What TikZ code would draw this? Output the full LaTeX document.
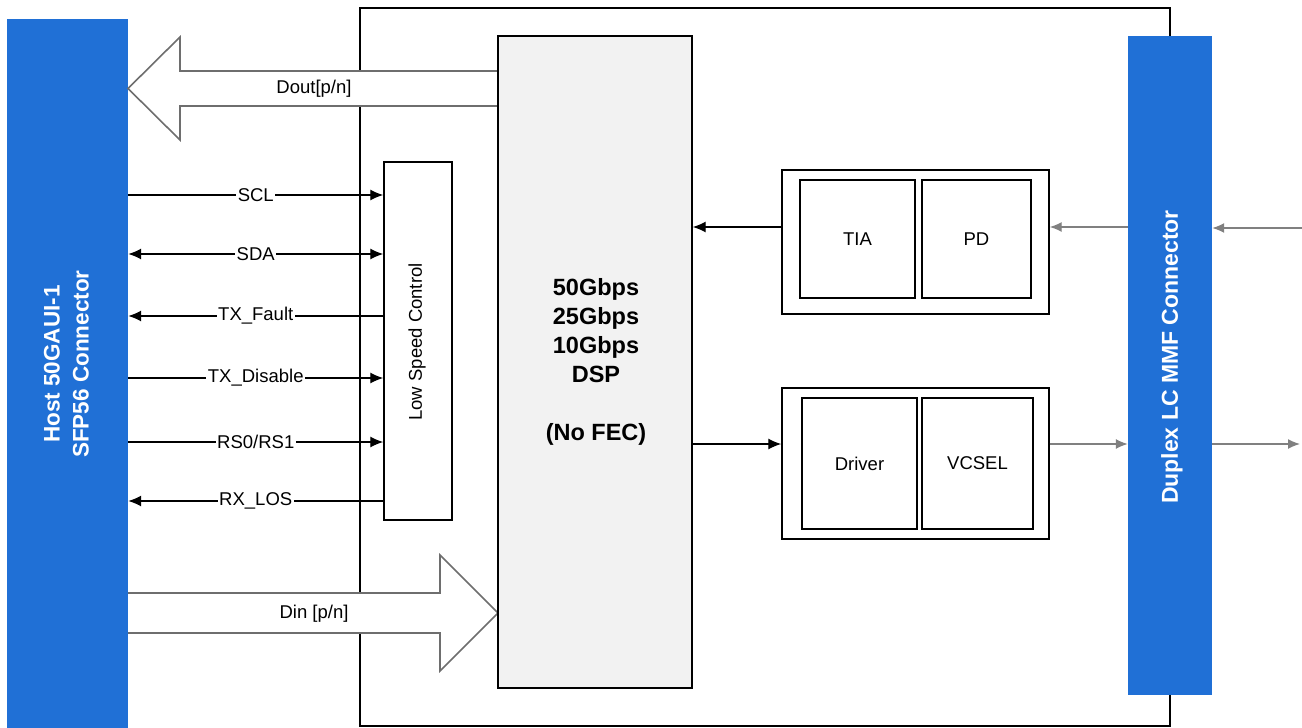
\documentclass[tikz,border=0pt]{standalone}
\usepackage{fontspec}
\setmainfont{Liberation Sans}
\usetikzlibrary{arrows.meta}
\definecolor{hostblue}{RGB}{32,112,214}
\definecolor{dspgray}{RGB}{242,242,242}
\definecolor{arrgray}{RGB}{128,128,128}
\definecolor{outlinegray}{RGB}{110,110,110}
\begin{document}
\begin{tikzpicture}[x=1pt,y=-1pt,
  box/.style={draw=black, line width=1.4pt, inner sep=0pt, fill=white},
  bluebar/.style={fill=hostblue, draw=none, inner sep=0pt},
  bartext/.style={text=white, font=\fontsize{22.5}{29}\selectfont\bfseries, align=center, rotate=90, inner sep=0pt},
  lbl/.style={font=\fontsize{18.5}{22}\selectfont, inner sep=0pt},
  siglab/.style={lbl, fill=white, inner xsep=1.5pt, inner ysep=1pt},
  sig/.style={draw=black, line width=1.3pt},
  blk/.style={-{Latex[length=13pt,width=11pt]}},
  blkboth/.style={{Latex[length=13pt,width=11pt]}-{Latex[length=13pt,width=11pt]}},
  gry/.style={draw=arrgray, line width=1.4pt, -{Latex[length=12pt,width=10pt]}},
  bigarrow/.style={draw=outlinegray, fill=white, line width=1.6pt, line join=miter}
]
\useasboundingbox (0,0) rectangle (1302,728);

% module outline
\node[box, line width=1.1pt, minimum width=810pt, minimum height=718pt] (module) at (765,367) {};

% host connector bar
\node[bluebar, minimum width=121pt, minimum height=709pt] (host) at (67.5,373.5) {};
\node[bartext] (hosttxt) at (66.5,364) {Host 50GAUI-1\\SFP56 Connector};

% optical connector bar
\node[bluebar, minimum width=84pt, minimum height=659pt] (optbar) at (1170,365.5) {};
\node[bartext, font=\fontsize{23}{29}\selectfont\bfseries] (opttxt) at (1172,357) {Duplex LC MMF Connector};

% big data arrows
\path[bigarrow] (498,71) -- (180,71) -- (180,37) -- (128,88.5) -- (180,140) -- (180,106) -- (498,106);
\node[lbl] (dout) at (314,88.5) {Dout[p/n]};
\path[bigarrow] (128,593) -- (440,593) -- (440,555) -- (498,613) -- (440,671) -- (440,633) -- (128,633);
\node[lbl] (din) at (314,614) {Din [p/n]};

% DSP
\node[box, fill=dspgray, minimum width=194pt, minimum height=652pt] (dsp) at (595,362) {};
\node[font=\fontsize{23.5}{29}\selectfont\bfseries, align=center, inner sep=0pt] (dsptxt) at (596,362)
  {50Gbps\\25Gbps\\10Gbps\\DSP\\[29pt](No FEC)};

% low speed control
\node[box, minimum width=68pt, minimum height=358pt] (lsc) at (418,341) {};
\node[lbl, rotate=90] (lsctxt) at (417,342) {Low Speed Control};

% receiver block
\node[box, minimum width=267pt, minimum height=144pt] (rx) at (915.5,242) {};
\node[box, minimum width=115pt, minimum height=118pt] (tia) at (857.5,239) {};
\node[lbl] at (tia) {TIA};
\node[box, minimum width=109pt, minimum height=118pt] (pd) at (976.5,239) {};
\node[lbl] at (pd) {PD};

% transmitter block
\node[box, minimum width=267pt, minimum height=151pt] (tx) at (915.5,463.5) {};
\node[box, minimum width=115pt, minimum height=131pt] (drv) at (859.5,463.5) {};
\node[lbl] at (drv) {Driver};
\node[box, minimum width=111pt, minimum height=131pt] (vcsel) at (977.5,463.5) {};
\node[lbl] at (vcsel) {VCSEL};

% signal levels
\coordinate (yscl) at (0,195);
\coordinate (ysda) at (0,254);
\coordinate (yfault) at (0,316);
\coordinate (ydis) at (0,378);
\coordinate (yrs) at (0,442);
\coordinate (ylos) at (0,501);
\coordinate (yrx) at (0,227);
\coordinate (ytx) at (0,444);
\coordinate (farright) at (1302,228);
\coordinate (outright) at (1300,444);

% low speed signals
\draw[sig, blk] (host.east |- yscl) -- node[siglab] {SCL} (lsc.west |- yscl);
\draw[sig, blkboth] (host.east |- ysda) -- node[siglab] {SDA} (lsc.west |- ysda);
\draw[sig, blk] (lsc.west |- yfault) -- node[siglab] {TX\_Fault} (host.east |- yfault);
\draw[sig, blk] (host.east |- ydis) -- node[siglab] {TX\_Disable} (lsc.west |- ydis);
\draw[sig, blk] (host.east |- yrs) -- node[siglab] {RS0/RS1} (lsc.west |- yrs);
\draw[sig, blk] (lsc.west |- ylos) -- node[siglab] {RX\_LOS} (host.east |- ylos);

% DSP connections
\draw[sig, blk] (rx.west |- yrx) -- (dsp.east |- yrx);
\draw[sig, blk] (dsp.east |- ytx) -- (tx.west |- ytx);

% optical connections
\draw[gry] (optbar.west |- yrx) -- (rx.east |- yrx);
\draw[gry] (farright) -- (optbar.east |- farright);
\draw[gry] (tx.east |- ytx) -- (optbar.west |- ytx);
\draw[gry] (optbar.east |- outright) -- (outright);
\end{tikzpicture}
\end{document}
